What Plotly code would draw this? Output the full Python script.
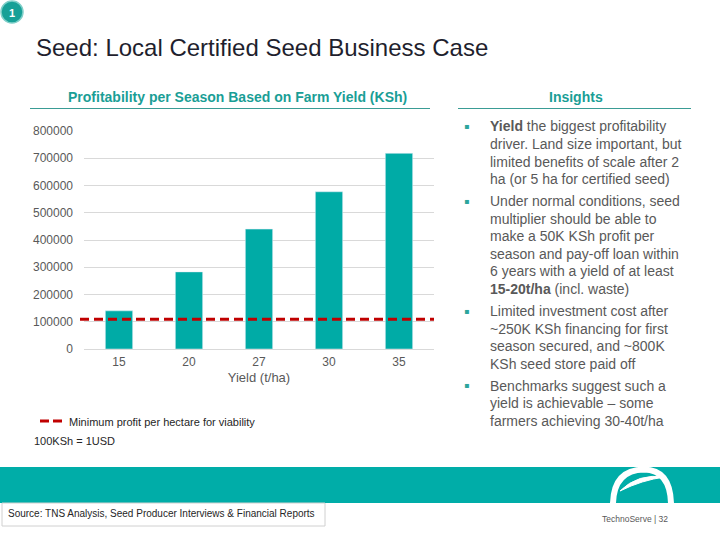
import plotly.graph_objects as go

# ---- data ----
yields = ["15", "20", "27", "30", "35"]
profit = [140000, 283000, 440000, 577000, 718000]
min_profit = 109000
y_ticks = [0, 100000, 200000, 300000, 400000, 500000, 600000, 700000, 800000]

title_text = "Seed: Local Certified Seed Business Case"
chart_title = "Profitability per Season Based on Farm Yield (KSh)"
insights_title = "Insights"
insight_lines = [
    ("<b>Yield</b> the biggest profitability", True),
    ("driver. Land size important, but", False),
    ("limited benefits of scale after 2", False),
    ("ha (or 5 ha for certified seed)", False),
    ("Under normal conditions, seed", True),
    ("multiplier should be able to", False),
    ("make a 50K KSh profit per", False),
    ("season and pay-off loan within", False),
    ("6 years with a yield of at least", False),
    ("<b>15-20t/ha</b> (incl. waste)", False),
    ("Limited investment cost after", True),
    ("~250K KSh financing for first", False),
    ("season secured, and ~800K", False),
    ("KSh seed store paid off", False),
    ("Benchmarks suggest such a", True),
    ("yield is achievable \u2013 some", False),
    ("farmers achieving 30-40t/ha", False),
]
legend_text = "Minimum profit per hectare for viability"
fx_text = "100KSh = 1USD"
source_text = "Source: TNS Analysis, Seed Producer Interviews & Financial Reports"
footer_text = "TechnoServe | 32"

# ---- layout geometry (pixels) ----
W, H = 720, 540
L, R, T, B = 84, 434, 131, 349
FONT = "Liberation Sans, Arial, sans-serif"
TEAL = "#00ABA6"
GRAY = "#595959"


def px(x):
    return (x - L) / (R - L)


def py(y):
    return (B - y) / (B - T)


fig = go.Figure()
fig.add_trace(go.Bar(x=yields, y=profit, marker_color=TEAL, width=0.39,
                     showlegend=False, hoverinfo="x+y"))

shapes = []
annotations = []


def text(t, x, y, size, color, anchor="left", family=FONT):
    annotations.append(dict(text=t, x=px(x), y=py(y), xref="paper", yref="paper",
                            xanchor=anchor, yanchor="middle", showarrow=False,
                            font=dict(color=color, size=size, family=family)))


# minimum profit dashed line across plot
shapes.append(dict(type="line", xref="paper", yref="y", x0=px(80), x1=1.0,
                   y0=min_profit, y1=min_profit,
                   line=dict(color="#C00000", width=3, dash="9px,5px")))

# badge
shapes.append(dict(type="circle", xref="paper", yref="paper",
                   x0=px(1), x1=px(23), y0=py(23), y1=py(1),
                   fillcolor="#17A097", line=dict(color="#7FCFC9", width=1.5)))
text("<b>1</b>", 12, 12.5, 11, "white", "center")

# title
text(title_text, 34, 47, 24, "#1F1F2E")

# chart subtitle & underline
text("<b>" + chart_title + "</b>", 237, 97, 14, "#1A9E96", "center")
shapes.append(dict(type="line", xref="paper", yref="paper", x0=px(30), x1=px(430),
                   y0=py(108.5), y1=py(108.5), line=dict(color="#3A9C95", width=1)))

# insights title & underline
text("<b>" + insights_title + "</b>", 576, 97, 14, "#1A9E96", "center")
shapes.append(dict(type="line", xref="paper", yref="paper", x0=px(458), x1=px(691),
                   y0=py(108.5), y1=py(108.5), line=dict(color="#3A9C95", width=1)))

# insight lines
y0, step = 126.5, 17.55
for i, (line, bullet) in enumerate(insight_lines):
    yy = y0 + i * step + (i >= 4) * 4.5 + (i >= 10) * 4.5 + (i >= 14) * 4.5
    text(line, 488, yy, 14, GRAY)
    if bullet:
        text("\u25aa", 466, yy, 8, "#2CA59C", "center", "DejaVu Sans")

# manual legend
shapes.append(dict(type="line", xref="paper", yref="paper", x0=px(40), x1=px(63),
                   y0=py(421), y1=py(421),
                   line=dict(color="#C00000", width=3, dash="9px,4px")))
text(legend_text, 67, 422, 11, "#262626")
text(fx_text, 32, 441, 11, "#262626")

# bottom band
shapes.append(dict(type="rect", xref="paper", yref="paper", x0=px(0), x1=px(720),
                   y0=py(503), y1=py(467), fillcolor="#00ADA8", line=dict(width=0),
                   layer="below"))
# logo
shapes.append(dict(type="path", xref="paper", yref="paper",
                   path="M %f,%f Q %f,%f %f,%f Q %f,%f %f,%f" % (
                       px(613), py(503), px(614), py(470), px(644), py(469.5),
                       px(670), py(470), px(671), py(503)),
                   line=dict(color="white", width=6)))
shapes.append(dict(type="path", xref="paper", yref="paper",
                   path="M %f,%f Q %f,%f %f,%f Q %f,%f %f,%f Z" % (
                       px(620), py(491), px(638), py(473), px(665), py(477),
                       px(642), py(480), px(620), py(491)),
                   fillcolor="white", line=dict(color="white", width=1)))

# source box and text
shapes.append(dict(type="rect", xref="paper", yref="paper", x0=px(2), x1=px(325),
                   y0=py(526), y1=py(503), line=dict(color="#D0D0D0", width=1)))
text(source_text, 6, 513.5, 10, "#262626")
text(footer_text, 600, 519, 8.5, GRAY)

fig.update_layout(
    width=W, height=H, autosize=False,
    margin=dict(l=L, r=W - R, t=T, b=H - B, pad=0),
    paper_bgcolor="white", plot_bgcolor="white",
    bargap=0.61,
    shapes=shapes, annotations=annotations,
    font=dict(family=FONT, color=GRAY, size=12),
    xaxis=dict(title=dict(text="Yield (t/ha)", standoff=4, font=dict(size=13, color=GRAY)),
               type="category", showgrid=False, showline=False, zeroline=False,
               tickfont=dict(size=12, color=GRAY), ticks="", ticklabelstandoff=4),
    yaxis=dict(range=[0, 800000], tickvals=y_ticks, ticktext=[str(v) for v in y_ticks],
               showgrid=True, gridcolor="#D9D9D9", gridwidth=1, zeroline=True,
               zerolinecolor="#D9D9D9", zerolinewidth=1, showline=False,
               tickfont=dict(size=12, color=GRAY), ticks="", ticklabelstandoff=10),
)

fig.write_html("out.html", config={"displayModeBar": False},
               post_script="document.body.style.margin='0';document.body.style.padding='0';")
